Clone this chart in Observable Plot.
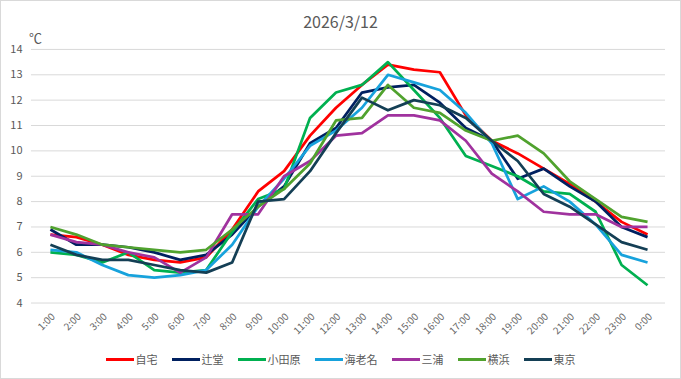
<!DOCTYPE html>
<html><head><meta charset="utf-8">
<script src="https://cdn.jsdelivr.net/npm/d3@7"></script>
<script src="https://cdn.jsdelivr.net/npm/@observablehq/plot@0.6"></script>
<style>
html,body{margin:0;padding:0;background:#fff;}
#chart{position:relative;width:681px;height:379px;box-sizing:border-box;border:1px solid #d9d9d9;overflow:hidden;font-family:"Noto Sans CJK JP","Noto Sans",sans-serif;color:#595959;background:#fff;}
#title{position:absolute;left:-1px;top:10px;width:681px;text-align:center;font-size:16px;line-height:20px;}
#unit{position:absolute;left:28px;top:29px;font-size:13px;line-height:16px;}
#plot{position:absolute;left:-1px;top:-1px;}
#legend{position:absolute;left:-1px;top:350px;width:681px;display:flex;justify-content:center;gap:14px;font-size:11px;line-height:16px;}
.item{display:flex;align-items:center;}
.sw{width:28px;height:3px;margin-right:2px;}
</style>
</head><body>
<div id="chart">
  <div id="title">2026/3/12</div>
  <div id="unit">℃</div>
  <div id="plot"></div>
  <div id="legend"></div>
</div>
<script>
const hours = ["1:00","2:00","3:00","4:00","5:00","6:00","7:00","8:00","9:00","10:00","11:00","12:00","13:00","14:00","15:00","16:00","17:00","18:00","19:00","20:00","21:00","22:00","23:00","0:00"];
const seriesNames = ["自宅","辻堂","小田原","海老名","三浦","横浜","東京"];
const seriesColors = ["#FF0000","#002060","#00B050","#17A2DC","#A0329E","#50A22E","#143F55"];
const yTicks = [4,5,6,7,8,9,10,11,12,13,14];

const jitaku   = [6.7,6.6,6.3,5.9,5.7,5.6,5.8,6.9,8.4,9.2,10.6,11.7,12.6,13.4,13.2,13.1,11.4,10.4,9.9,9.3,8.7,8.0,7.2,6.7];
const tsujido  = [6.9,6.3,6.3,6.2,6.0,5.7,5.9,6.7,7.8,8.6,10.3,10.9,12.3,12.5,12.6,11.9,10.9,10.4,8.9,9.3,8.6,8.0,7.0,6.6];
const odawara  = [6.0,5.9,5.6,6.0,5.3,5.2,5.3,6.8,8.1,8.5,11.3,12.3,12.6,13.5,12.4,11.3,9.8,9.4,9.0,8.4,8.3,7.6,5.5,4.7];
const ebina    = [6.1,6.0,5.5,5.1,5.0,5.1,5.3,6.3,7.8,8.9,10.2,10.8,11.7,13.0,12.7,12.4,11.5,10.3,8.1,8.6,8.0,7.1,5.9,5.6];
const miura    = [6.7,6.4,6.3,6.0,5.8,5.2,5.8,7.5,7.5,9.0,9.6,10.6,10.7,11.4,11.4,11.2,10.4,9.1,8.4,7.6,7.5,7.5,7.0,7.0];
const yokohama = [7.0,6.7,6.3,6.2,6.1,6.0,6.1,6.9,7.8,8.5,9.5,11.2,11.3,12.6,11.7,11.5,10.8,10.4,10.6,9.9,8.8,8.1,7.4,7.2];
const tokyo    = [6.3,5.9,5.7,5.7,5.5,5.3,5.2,5.6,8.0,8.1,9.2,10.7,12.1,11.6,12.0,11.8,11.3,10.4,9.6,8.3,7.8,7.1,6.4,6.1];

const seriesValues = [jitaku,tsujido,odawara,ebina,miura,yokohama,tokyo];
const data = [];
seriesNames.forEach((name,k)=>seriesValues[k].forEach((v,i)=>data.push({hour:hours[i],name,v,k})));

const chart = Plot.plot({
  width:681, height:345,
  marginTop:49, marginBottom:42, marginLeft:31, marginRight:15,
  style:{fontFamily:'"Noto Sans CJK JP","Noto Sans",sans-serif', fontSize:"11px", color:"#595959", background:"transparent"},
  x:{type:"point", domain:hours, padding:0.5, label:null},
  y:{domain:[4,14], label:null},
  color:{domain:seriesNames, range:seriesColors},
  marks:[
    Plot.gridY(yTicks,{stroke:"#d9d9d9", strokeOpacity:1, strokeWidth:1}),
    Plot.axisY(yTicks,{tickSize:0, tickPadding:9, label:null, fontSize:11, fill:"#595959"}),
    Plot.axisX({tickSize:0, tickPadding:12, tickRotate:-45, label:null, fontSize:10, fill:"#6a6a6a", dx:3}),
    Plot.line(data,{x:"hour", y:"v", z:"name", stroke:"name", strokeWidth:2.75, strokeLinejoin:"round", strokeLinecap:"butt"})
  ]
});
document.getElementById("plot").appendChild(chart);

const legend = document.getElementById("legend");
seriesNames.forEach((name,k)=>{
  const it = document.createElement("div"); it.className="item";
  const sw = document.createElement("div"); sw.className="sw"; sw.style.background=seriesColors[k];
  const tx = document.createElement("span"); tx.textContent=name;
  it.appendChild(sw); it.appendChild(tx); legend.appendChild(it);
});
</script>
</body></html>
